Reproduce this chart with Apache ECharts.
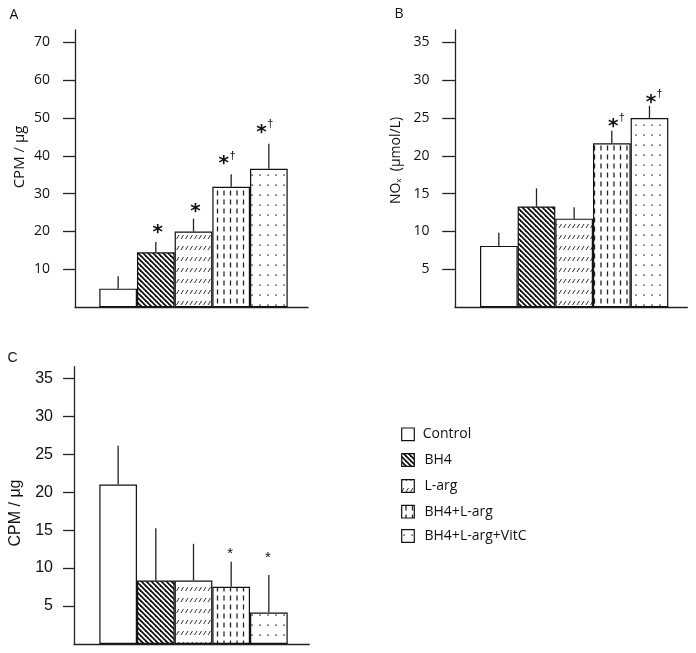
<!DOCTYPE html>
<html>
<head>
<meta charset="utf-8">
<script src="https://cdn.jsdelivr.net/npm/echarts@6/dist/echarts.min.js"></script>
<style>html,body{margin:0;padding:0;background:#fff}#c{width:696px;height:653px}</style>
</head>
<body>
<div id="c"></div>
<script>
// ---------- data ----------
const categories = ['Control', 'BH4', 'L-arg', 'BH4+L-arg', 'BH4+L-arg+VitC'];

const meanA = [4.9, 14.5, 20.0, 31.8, 36.6];
const errTopA = [8.2, 17.2, 23.4, 35.1, 43.2];
const annTextA = ['', '*', '*', '*†', '*†'];
const annPosA = [null, 21.0, 26.5, 39.1, 47.4];
const ticksA = [10, 20, 30, 40, 50, 60, 70];

const meanB = [8.1, 13.3, 11.7, 21.65, 25.0];
const errTopB = [9.85, 15.7, 13.2, 23.3, 26.6];
const annTextB = ['', '', '', '*†', '*†'];
const annPosB = [null, null, null, 24.5, 27.7];
const ticksB = [5, 10, 15, 20, 25, 30, 35];

const meanC = [21.0, 8.35, 8.35, 7.55, 4.15];
const errTopC = [26.1, 15.25, 13.2, 10.85, 9.1];
const annTextC = ['', '', '', '*', '*'];
const annPosC = [null, null, null, 12.4, 11.85];
const ticksC = [5, 10, 15, 20, 25, 30, 35];

// ---------- patterns ----------
function pat(w, h, draw) {
  const c = document.createElement('canvas');
  c.width = w; c.height = h;
  const g = c.getContext('2d');
  g.fillStyle = '#fff'; g.fillRect(0, 0, w, h);
  g.strokeStyle = '#111'; g.fillStyle = '#222';
  draw(g);
  return { image: c, repeat: 'repeat' };
}
const patterns = [
  '#ffffff',
  pat(5, 5, g => { g.lineWidth = 1.8; for (let k = -1; k <= 1; k++) { g.beginPath(); g.moveTo(k * 5 - 1, -1); g.lineTo(k * 5 + 6, 6); g.stroke(); } }),
  pat(9, 11, g => { g.lineWidth = 1; g.strokeStyle = '#333'; [1, 5.5].forEach(x => { g.beginPath(); g.moveTo(x, 8); g.lineTo(x + 2.5, 4); g.stroke(); }); }),
  pat(13, 9, g => { g.lineWidth = 1.3; g.strokeStyle = '#222'; [3, 9.5].forEach(x => { g.beginPath(); g.moveTo(x, 1.5); g.lineTo(x, 6.5); g.stroke(); }); }),
  pat(8, 10, g => { g.fillStyle = '#333'; g.fillRect(3.4, 4.4, 1.4, 1.4); })
];

const AX = '#222';
const sansAB = 'Open Sans';
const sansC = 'Liberation Sans';

function frameAxes(gi, max, ticks, font, margin, tickLen) {
  return {
    x: { gridIndex: gi, type: 'value', min: 0, max: 1, axisLine: { show: true, onZero: false, lineStyle: { color: AX, width: 1.3 } }, axisTick: { show: false }, axisLabel: { show: false }, splitLine: { show: false } },
    y: { gridIndex: gi, type: 'value', min: 0, max: max, axisLine: { show: true, lineStyle: { color: AX, width: 1.3 } },
         axisTick: { show: true, length: tickLen, customValues: ticks, lineStyle: { color: AX, width: 1.3 } },
         axisLabel: { customValues: ticks, margin: margin, fontFamily: font, fontSize: 14, color: '#111' }, splitLine: { show: false } }
  };
}
function barAxes(gi, max) {
  return {
    x: { gridIndex: gi, type: 'category', data: categories, show: false },
    y: { gridIndex: gi, type: 'value', min: 0, max: max, show: false }
  };
}

const fA = frameAxes(0, 73.25, ticksA, sansAB, 25, 12);
const bA = barAxes(1, 73.25);
const fB = frameAxes(2, 36.62, ticksB, sansAB, 25.5, 12.7);
const bB = barAxes(3, 36.62);
const fC = frameAxes(4, 36.53, ticksC, sansC, 21, 11);
fC.y.axisLabel.fontSize = 16;
const bC = barAxes(5, 36.53);

function errRender(params, api) {
  const i = api.value(0);
  const p0 = api.coord([i, api.value(1)]);
  const p1 = api.coord([i, api.value(2)]);
  return { type: 'line', shape: { x1: p0[0], y1: p0[1], x2: p1[0], y2: p1[1] }, style: { stroke: '#222', lineWidth: 1.3 } };
}
function annRender(texts, cfg) {
  return function (params, api) {
    const i = api.value(0);
    const p = api.coord([i, api.value(1)]);
    const t = texts[i];
    const star = t.slice(0, 1), rest = t.slice(1);
    const sx = p[0] + (rest ? cfg.dxD : cfg.dx);
    const kids = [{ type: 'text', x: sx, y: p[1] + cfg.dy, style: { text: star, font: cfg.starFont, fill: '#111', align: 'center', verticalAlign: 'middle' } }];
    if (rest) kids.push({ type: 'text', x: sx + cfg.dagDx, y: p[1] + cfg.dagDy, style: { text: rest, font: cfg.dagFont, fill: '#111', align: 'center', verticalAlign: 'middle' } });
    return { type: 'group', children: kids };
  };
}

function panelSeries(xi, mean, errTop, annText, annPos, cfg) {
  return [
    { type: 'bar', xAxisIndex: xi, yAxisIndex: xi, barWidth: '100%', barCategoryGap: '0%',
      data: mean.map((v, i) => ({ value: v, itemStyle: { color: patterns[i] } })),
      itemStyle: { borderColor: '#111', borderWidth: 1.2 } },
    { type: 'custom', xAxisIndex: xi, yAxisIndex: xi, renderItem: errRender, z: 3,
      data: mean.map((m, i) => [i, m, errTop[i]]) },
    { type: 'custom', xAxisIndex: xi, yAxisIndex: xi, renderItem: annRender(annText, cfg), z: 4, clip: false,
      data: annText.map((t, i) => t ? [i, annPos[i]] : null).filter(d => d) }
  ];
}

const cfgA = { dx: 2, dxD: -7.5, dy: 5, dagDx: 9, dagDy: -3.5, starFont: 'bold 20px "DejaVu Sans"', dagFont: '11px "Liberation Sans"' };
const cfgB = { dx: 0, dxD: 1.5, dy: 5, dagDx: 8.5, dagDy: -3.5, starFont: 'bold 20px "DejaVu Sans"', dagFont: '11px "Liberation Sans"' };
const cfgC = { dx: -1, dxD: -1, dy: 3.5, dagDx: 7, dagDy: -3, starFont: '15px "Liberation Sans"', dagFont: '10px "Liberation Sans"' };

const legendY = [434.3, 460, 486, 511.7, 536];
const graphics = [
  { type: 'text', x: 14, y: 15, style: { text: 'A', font: '14px "Open Sans"', fill: '#111', align: 'center', verticalAlign: 'middle' } },
  { type: 'text', x: 399, y: 14.5, style: { text: 'B', font: '14px "Open Sans"', fill: '#111', align: 'center', verticalAlign: 'middle' } },
  { type: 'text', x: 12.5, y: 358, style: { text: 'C', font: '14px "Liberation Sans"', fill: '#111', align: 'center', verticalAlign: 'middle' } },
  { type: 'text', x: 20, y: 157, rotation: Math.PI / 2, style: { text: 'CPM / μg', font: '15px "Open Sans"', fill: '#111', align: 'center', verticalAlign: 'middle' } },
  { type: 'text', x: 396, y: 160.5, rotation: Math.PI / 2, style: { text: '{n|NO}{s|x}{n|  (μmol/L)}', align: 'center', verticalAlign: 'middle', fill: '#111',
      rich: { n: { fontFamily: 'Open Sans', fontSize: 14, fill: '#111' }, s: { fontFamily: 'Open Sans', fontSize: 8, fill: '#111', padding: [6, 0, 0, 0] } } } },
  { type: 'text', x: 16, y: 513, rotation: Math.PI / 2, style: { text: 'CPM / μg', font: '16px "Liberation Sans"', fill: '#111', align: 'center', verticalAlign: 'middle' } }
];
categories.forEach((c, i) => {
  graphics.push({ type: 'rect', shape: { x: 401.7, y: legendY[i] - 6.3, width: 12.6, height: 12.6 }, style: { fill: patterns[i], stroke: '#111', lineWidth: 1.2 } });
  graphics.push({ type: 'text', x: i === 0 ? 422.7 : 424.5, y: legendY[i], style: { text: c, font: '14px "Open Sans"', fill: '#111', verticalAlign: 'middle' } });
});

const option = {
  animation: false,
  backgroundColor: '#fff',
  grid: [
    { left: 75, top: 30, width: 233, height: 277.2 },
    { left: 99.3, top: 30, width: 188.4, height: 277.2 },
    { left: 455, top: 30, width: 232.3, height: 277.2 },
    { left: 480, top: 30, width: 188.3, height: 277.2 },
    { left: 74, top: 366.7, width: 235.3, height: 277.3 },
    { left: 99.3, top: 366.7, width: 188.4, height: 277.3 }
  ],
  xAxis: [fA.x, bA.x, fB.x, bB.x, fC.x, bC.x],
  yAxis: [fA.y, bA.y, fB.y, bB.y, fC.y, bC.y],
  series: [].concat(
    panelSeries(1, meanA, errTopA, annTextA, annPosA, cfgA),
    panelSeries(3, meanB, errTopB, annTextB, annPosB, cfgB),
    panelSeries(5, meanC, errTopC, annTextC, annPosC, cfgC)
  ),
  graphic: graphics
};
const chart = echarts.init(document.getElementById('c'), null, { renderer: 'canvas' });
chart.setOption(option);
</script>
</body>
</html>
